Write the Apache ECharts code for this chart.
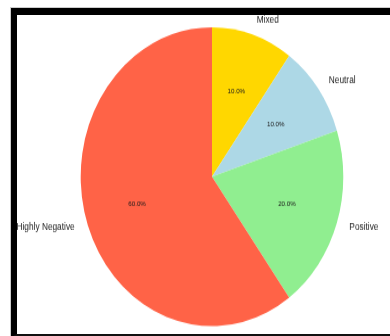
<!DOCTYPE html>
<html>
<head>
<meta charset="utf-8">
<script src="https://cdn.jsdelivr.net/npm/echarts@6/dist/echarts.min.js"></script>
<style>
  html, body { margin: 0; padding: 0; background: #fff; width: 390px; height: 336px; overflow: hidden; }
  #chart { position: absolute; left: 0; top: 0; width: 390px; height: 296px; transform: scaleY(1.138); transform-origin: 0 0; }
  #frame { position: absolute; left: 11px; top: 8px; width: 400px; height: 319px;
           border-left: 6px solid #000; border-top: 7px solid #000; border-bottom: 3px solid #111;
           box-shadow: -1px -1px 0 0 #ccc; pointer-events: none; z-index: 10; }
</style>
</head>
<body>
<div id="chart"></div>
<div id="frame"></div>
<script>
const categories = ['Mixed', 'Neutral', 'Positive', 'Highly Negative'];
const values = [10, 10, 20, 60];
const colors = ['#FFD700', '#ADD8E6', '#90EE90', '#FF6347'];

const R = 131.3;
const center = [212, 155.3];
const data = categories.map((c, i) => ({ name: c, value: values[i], itemStyle: { color: colors[i] } }));
const ghost = categories.map((c, i) => ({ name: c, value: values[i] }));

const chart = echarts.init(document.getElementById('chart'), null, { renderer: 'canvas' });
chart.setOption({
  animation: false,
  backgroundColor: 'transparent',
  series: [
    {
      type: 'pie',
      radius: R,
      center: center,
      startAngle: 90,
      clockwise: true,
      avoidLabelOverlap: false,
      silent: true,
      itemStyle: { borderWidth: 0 },
      label: {
        show: true, position: 'outside', fontSize: 8.3, color: '#1a1a1a',
        fontFamily: 'Liberation Sans', distanceToLabelLine: 0, formatter: '{b}'
      },
      labelLine: { show: false, length: R * 0.1, length2: 0 },
      emphasis: { disabled: true },
      data: data
    },
    {
      type: 'pie',
      radius: [0, R * 1.2 - 6],
      center: center,
      startAngle: 90,
      clockwise: true,
      avoidLabelOverlap: false,
      silent: true,
      itemStyle: { color: 'rgba(0,0,0,0)', borderWidth: 0 },
      label: {
        show: true, position: 'inside', fontSize: 6.2, color: '#1a1a1a',
        fontFamily: 'Liberation Sans',
        formatter: p => p.percent.toFixed(1) + '%'
      },
      labelLine: { show: false },
      emphasis: { disabled: true },
      data: ghost
    }
  ]
});
</script>
</body>
</html>
